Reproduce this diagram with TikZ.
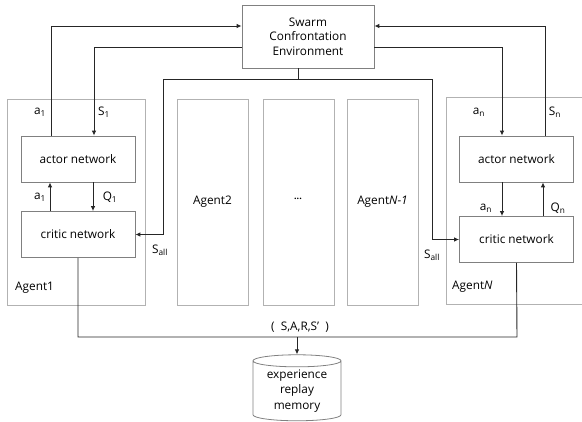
\documentclass[tikz,border=0pt]{standalone}
\usepackage{fontspec}
\setmainfont{Open Sans}
\usetikzlibrary{shapes.geometric,arrows.meta}

\tikzset{
  agentbox/.style={draw=black!30, line width=0.9pt, inner sep=0pt},
  netbox/.style={draw=black!50, line width=0.8pt, minimum width=114pt, minimum height=46pt, inner sep=0pt},
  conn/.style={draw=black!85, line width=0.9pt},
  arr/.style={conn, -{Latex[length=5pt,width=4.5pt]}},
  lbl/.style={inner sep=0pt},
}

\begin{document}
\begin{tikzpicture}[x=1pt,y=-1pt,font=\fontsize{11.8}{14.5}\selectfont]
    \useasboundingbox (0,0) rectangle (582,422);
    % environment and agents
    \node[draw=black!50, line width=0.8pt, minimum width=132pt, minimum height=63pt, align=center, inner sep=0pt] (env) at (308,36.5) {Swarm\\Confrontation\\Environment};
    \node[agentbox, minimum width=138pt, minimum height=206pt] (agent1) at (76,202) {};
    \node[agentbox, minimum width=71pt, minimum height=206pt] (agent2) at (212.5,202) {Agent2};
    \node[agentbox, minimum width=71pt, minimum height=206pt] (dots) at (298.5,202) {};
    \node[lbl] (dotstext) at (298,199) {\fontsize{9}{10}\selectfont\textbf{...}};
    \node[agentbox, minimum width=71pt, minimum height=206pt] (agentm) at (382.5,202) {Agent\textit{N-1}};
    \draw[agentbox] (582,97) -| (446,304) -- (582,304);
    \node[lbl, anchor=west] (name1) at (15,288) {Agent1};
    \node[lbl, anchor=west] (nameN) at (452,287) {Agent\textit{N}};
    % networks
    \node[netbox] (actL) at (78,159) {actor network};
    \node[netbox] (critL) at (78,234.5) {critic network};
    \node[netbox] (actR) at (516.5,159) {actor network};
    \node[netbox] (critR) at (516.5,239.5) {critic network};
    \node[draw=black!50, line width=0.8pt, shape=cylinder, shape border rotate=90, aspect=0.2, minimum width=88pt, minimum height=66pt, align=center, inner sep=0pt, font=\fontsize{11.8}{15.5}\selectfont] (memory) at (297,391) {experience\\replay\\memory};
    % actions and states
    \draw[arr] ([xshift=-27pt]actL.north) |- ([yshift=10.5pt]env.west);
    \draw[arr] ([yshift=-10.5pt]env.west) -| ([xshift=16pt]actL.north);
    \draw[arr] ([xshift=-28pt]critL.north) -- ([xshift=-28pt]actL.south);
    \draw[arr] ([xshift=15pt]actL.south) -- ([xshift=15pt]critL.north);
    \draw[arr] ([xshift=28.5pt]actR.north) |- ([yshift=10.5pt]env.east);
    \draw[arr] ([yshift=-10.5pt]env.east) -| ([xshift=-14.5pt]actR.north);
    \draw[arr] ([xshift=-14.5pt]actR.south) -- ([xshift=-14.5pt]critR.north);
    \draw[arr] ([xshift=26.5pt]critR.north) -- ([xshift=26.5pt]actR.south);
    % global state
    \coordinate (sallL) at (163,79);
    \coordinate (sallR) at (432,79);
    \draw[arr] ([xshift=-10pt]env.south) |- (sallL) |- (critL.east);
    \draw[arr] ([xshift=-10pt]env.south |- sallR) -- (sallR) |- (critR.west);
    % replay
    \coordinate (joinR) at (517,337);
    \draw[conn] (critL.south) |- (joinR) -- (critR.south);
    \draw[arr] (memory.north |- joinR) -- (memory.north);
    % labels
    \node[lbl] (la1) at (40,112) {a\textsubscript{1}};
    \node[lbl] (ls1) at (104,112) {S\textsubscript{1}};
    \node[lbl] (la1b) at (40,197) {a\textsubscript{1}};
    \node[lbl] (lq1) at (110,197) {Q\textsubscript{1}};
    \node[lbl] (lsallL) at (160,250) {S\textsubscript{all}};
    \node[lbl] (lsallR) at (432,255) {S\textsubscript{all}};
    \node[lbl] (lan) at (479,112) {a\textsubscript{n}};
    \node[lbl] (lsn) at (555,112) {S\textsubscript{n}};
    \node[lbl] (lanb) at (486,208) {a\textsubscript{n}};
    \node[lbl] (lqn) at (558,208) {Q\textsubscript{n}};
    \node[lbl] (tuple) at (300,327) {(\ \ S,A,R,S’\ \ )};
\end{tikzpicture}
\end{document}
